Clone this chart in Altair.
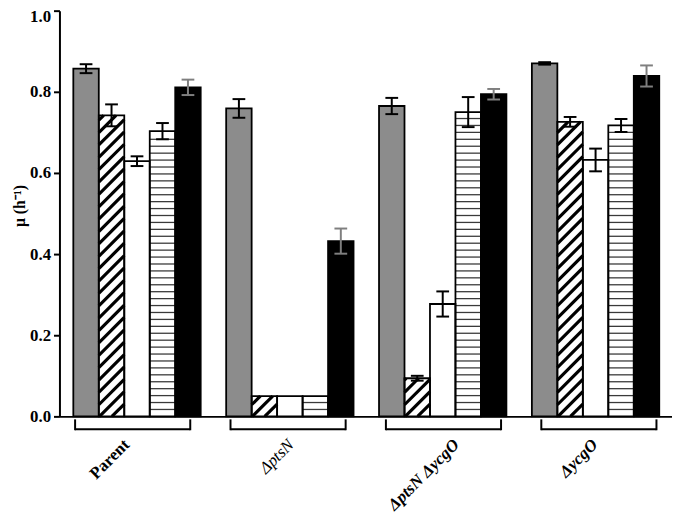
import altair as alt
import numpy as np
import pandas as pd

# ---------------- data ----------------
groups = ["Parent", "ΔptsN", "ΔptsN ΔycgO", "ΔycgO"]
conditions = ["Condition 1", "Condition 2", "Condition 3", "Condition 4", "Condition 5"]

mean_parent = [0.857, 0.742, 0.629, 0.703, 0.811]
err_parent = [0.011, 0.027, 0.012, 0.020, 0.019]

mean_ptsN = [0.759, 0.05, 0.05, 0.05, 0.432]
err_ptsN = [0.023, 0.0, 0.0, 0.0, 0.031]

mean_ptsN_ycgO = [0.765, 0.094, 0.277, 0.750, 0.794]
err_ptsN_ycgO = [0.020, 0.006, 0.031, 0.037, 0.013]

mean_ycgO = [0.870, 0.726, 0.632, 0.717, 0.839]
err_ycgO = [0.003, 0.012, 0.028, 0.016, 0.026]

means = [mean_parent, mean_ptsN, mean_ptsN_ycgO, mean_ycgO]
errs = [err_parent, err_ptsN, err_ptsN_ycgO, err_ycgO]

y_ticks = [0.0, 0.2, 0.4, 0.6, 0.8, 1.0]

# ---------------- styling ----------------
FONT = "Liberation Serif"
fills = ["#8c8c8c", "white", "white", "white", "black"]
err_colors = ["black", "black", "black", "black", "#7f7f7f"]

W, H = 619, 410
XDOM = [-0.544, 23.5]          # x in "bar widths"; each group = 5 bars + 1 gap
x_unit_px = W / (XDOM[1] - XDOM[0])
slope = x_unit_px / H          # 45 degree hatch in data units
hatch_step = 12.5 / H          # vertical spacing of diagonal hatch
stripe_step = 7.0 / H          # spacing of horizontal stripes

rows = []
for gi, g in enumerate(groups):
    for si, c in enumerate(conditions):
        xl = 6 * gi + si
        rows.append(dict(group=g, cond=c, si=si, xl=xl, xr=xl + 1, xc=xl + 0.5,
                         cl=xl + 0.25, cr=xl + 0.75,
                         mean=means[gi][si], err=errs[gi][si],
                         lo=means[gi][si] - errs[gi][si], hi=means[gi][si] + errs[gi][si],
                         fill=fills[si], ecol=err_colors[si]))
df = pd.DataFrame(rows)
df_err = df[df.err > 0]

# diagonal hatch segments (condition 2) clipped to each bar
hatch = []
for _, r in df[df.si == 1].iterrows():
    v, xl = r["mean"], r["xl"]
    c = -slope
    while c < v:
        if c >= 0:
            x1, y1 = xl, c
        else:
            x1, y1 = xl + (-c) / slope, 0.0
        ye = c + slope
        if ye <= v:
            x2, y2 = xl + 1, ye
        else:
            x2, y2 = xl + (v - c) / slope, v
        if x2 > x1 and y1 < v:
            hatch.append(dict(x1=x1, x2=x2, y1=y1, y2=y2))
        c += hatch_step
df_hatch = pd.DataFrame(hatch)

# horizontal stripes (condition 4)
stripes = []
for _, r in df[df.si == 3].iterrows():
    k = 1
    while k * stripe_step < r["mean"] - 0.004:
        stripes.append(dict(x1=r["xl"], x2=r["xr"], y=k * stripe_step))
        k += 1
df_stripes = pd.DataFrame(stripes)

# group brackets (Prism-style, slightly wider pitch than the groups)
BR_PITCH, BR_START, BR_W = 6.1, 0.07, 4.52
br = []
for gi, g in enumerate(groups):
    left = BR_PITCH * gi + BR_START
    br.append(dict(group=g, bl=left, brr=left + BR_W, bc=left + BR_W / 2))
df_br = pd.DataFrame(br)

# group names become the labels of the x axis, one per bracket centre
BC0 = BR_START + BR_W / 2
label_vals = list(df_br["bc"])
names_js = "[" + ",".join("'" + g + "'" for g in groups) + "]"
IDX = f"round((datum.value - {BC0}) / {BR_PITCH})"
label_expr = f"{names_js}[{IDX}]"

def is_group(k):
    return f"{IDX} == {k}"

xscale = alt.Scale(domain=XDOM, nice=False, zero=False)
yscale = alt.Scale(domain=[0, 1], nice=False)
xaxis = alt.Axis(values=label_vals, labelExpr=label_expr, ticks=False, tickSize=0,
                 grid=False, title=None, domainWidth=2, domainColor="black",
                 labelAngle=315, labelAlign="right", labelBaseline="top",
                 labelPadding=20, labelFont=FONT, labelFontSize=17, labelColor="black",
                 labelFlush=False, labelOverlap=False, labelBound=False,
                 labelFontStyle={"condition": {"test": is_group(0), "value": "normal"},
                                 "value": "italic"},
                 labelFontWeight={"condition": {"test": is_group(1), "value": "normal"},
                                  "value": "bold"},
                 labelOffset={"condition": [
                     {"test": is_group(0), "value": -12},
                     {"test": is_group(1), "value": -3},
                     {"test": is_group(2), "value": 7}],
                     "value": -10})
yaxis = alt.Axis(values=y_ticks, format=".1f", grid=False, tickSize=6, tickWidth=2,
                 tickColor="black", domainWidth=2, domainColor="black",
                 labelFont=FONT, labelFontSize=17, labelFontWeight="bold",
                 labelColor="black", labelPadding=3, labelFlush=False,
                 labelOffset={"condition": {"test": "datum.value > 0.99", "value": 6},
                              "value": 0},
                 title="μ (h⁻¹)", titleFont=FONT, titleFontSize=16,
                 titleFontWeight="bold", titleColor="black",
                 titleX=-32, titleY=197, titleBaseline="bottom", titleAngle=270)

def X(f):
    return alt.X(f, type="quantitative", scale=xscale, axis=xaxis)

def Y(f):
    return alt.Y(f, type="quantitative", scale=yscale, axis=yaxis)

base = alt.Chart(df)

bars_fill = base.mark_rect(strokeWidth=0).encode(
    x=X("xl"), x2="xr", y=Y("mean"), y2=alt.datum(0),
    fill=alt.Color("fill:N", scale=None))

hatch_l = alt.Chart(df_hatch).mark_rule(color="black", strokeWidth=3.2, strokeCap="butt").encode(
    x=X("x1"), x2="x2", y=Y("y1"), y2="y2")

stripe_l = alt.Chart(df_stripes).mark_rule(color="#3a3a3a", strokeWidth=1.3).encode(
    x=X("x1"), x2="x2", y=Y("y"))

bars_out = base.mark_rect(fillOpacity=0, stroke="black", strokeWidth=1.8).encode(
    x=X("xl"), x2="xr", y=Y("mean"), y2=alt.datum(0))

whisk = alt.Chart(df_err).mark_rule(strokeWidth=2).encode(
    x=X("xc"), y=Y("lo"), y2="hi", color=alt.Color("ecol:N", scale=None))
cap_hi = alt.Chart(df_err).mark_rule(strokeWidth=2).encode(
    x=X("cl"), x2="cr", y=Y("hi"), color=alt.Color("ecol:N", scale=None))
cap_lo = alt.Chart(df_err).mark_rule(strokeWidth=2).encode(
    x=X("cl"), x2="cr", y=Y("lo"), color=alt.Color("ecol:N", scale=None))

brk = alt.Chart(df_br)
br_h = brk.mark_rule(color="black", strokeWidth=2).encode(
    x=X("bl"), x2="brr", y=alt.value(H + 13))
br_l = brk.mark_rule(color="black", strokeWidth=2).encode(
    x=X("bl"), y=alt.value(H + 3), y2=alt.value(H + 14))
br_r = brk.mark_rule(color="black", strokeWidth=2).encode(
    x=X("brr"), y=alt.value(H + 3), y2=alt.value(H + 14))

chart = alt.layer(bars_fill, hatch_l, stripe_l, bars_out, whisk, cap_hi, cap_lo,
                  br_h, br_l, br_r).properties(
    width=W, height=H,
    autosize=alt.AutoSizeParams(type="none"),
    padding={"left": 52, "top": 0, "right": 0, "bottom": 100},
).configure_view(stroke=None)

chart.save("out.html", embed_options={"renderer": "svg", "actions": False})
